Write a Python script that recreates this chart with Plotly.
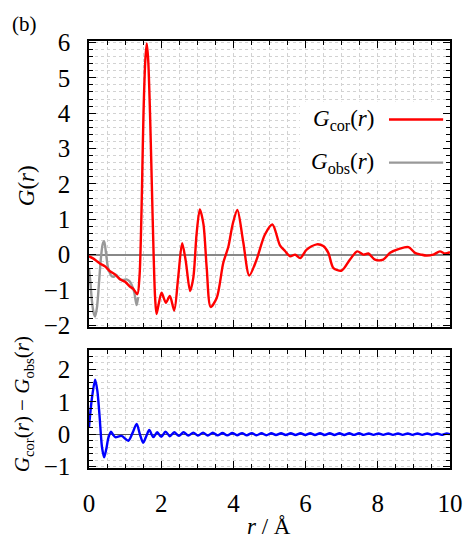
import plotly.graph_objects as go

# ---- data ----
r_cor = [0.0, 0.1, 0.2, 0.3, 0.44, 0.58, 0.72, 0.86, 1.0, 1.14, 1.22, 1.34, 1.40, 1.44, 1.47,
         1.51, 1.56, 1.60, 1.64, 1.69, 1.74, 1.79, 1.83, 1.87, 1.92, 2.01, 2.13, 2.24, 2.36,
         2.47, 2.58, 2.68, 2.8, 2.89, 2.98, 3.07, 3.17, 3.26, 3.37, 3.54, 3.72, 3.86, 3.98,
         4.11, 4.27, 4.44, 4.64, 4.87, 5.08, 5.29, 5.43, 5.57, 5.71, 5.85, 6.03, 6.31, 6.49,
         6.63, 6.77, 7.0, 7.23, 7.43, 7.6, 7.74, 7.92, 8.15, 8.34, 8.61, 8.85, 9.03, 9.2,
         9.35, 9.54, 9.72, 9.86, 10.0]
g_cor = [-0.05, -0.1, -0.17, -0.25, -0.33, -0.47, -0.56, -0.70, -0.77, -0.91, -0.96, -1.12,
         -0.6, 0.6, 2.0, 4.0, 5.5, 5.97, 5.5, 4.0, 2.0, 0.0, -1.2, -1.68, -1.45, -1.08, -1.36,
         -1.17, -1.58, -0.65, 0.32, -0.18, -1.03, -0.65, 0.58, 1.28, 0.86, -0.37, -1.48, -1.22,
         -0.23, 0.22, 0.86, 1.26, 0.37, -0.59, -0.15, 0.56, 0.85, 0.26, 0.1, -0.05, 0.0, -0.1,
         0.14, 0.29, 0.24, 0.05, -0.38, -0.45, -0.14, 0.09, 0.0, 0.03, -0.14, -0.14, 0.05,
         0.17, 0.21, 0.05, 0.0, -0.03, 0.0, 0.09, 0.03, 0.07]

r_obs = [0.0, 0.04, 0.08, 0.13, 0.17, 0.22, 0.27, 0.33, 0.38, 0.42, 0.47, 0.53, 0.63, 0.70,
         0.75, 0.86, 0.95, 1.04, 1.12, 1.18, 1.25, 1.32, 1.36]
g_obs = [-0.4, -0.8, -1.3, -1.65, -1.75, -1.5, -0.9, -0.1, 0.3, 0.38, 0.05, -0.38, -0.61,
         -0.62, -0.57, -0.7, -0.72, -0.7, -0.75, -0.85, -1.05, -1.43, -1.2]

r_diff = [0.0, 0.08, 0.17, 0.23, 0.29, 0.36, 0.42, 0.48, 0.54, 0.61, 0.67, 0.73, 0.9, 1.09,
          1.21, 1.32, 1.41, 1.5, 1.59, 1.67, 1.78, 1.89, 2.0, 2.12, 2.24, 2.36, 2.49, 2.62,
          2.75, 2.89, 3.02, 3.16, 3.29, 3.43, 3.56, 3.70, 3.83, 3.97, 4.10, 4.24, 4.37, 4.51,
          4.64, 4.78, 4.91, 5.05, 5.18, 5.32, 5.45, 5.59, 5.72, 5.86, 5.99, 6.13, 6.26, 6.40,
          6.53, 6.67, 6.80, 6.94, 7.07, 7.21, 7.34, 7.48, 7.61, 7.75, 7.88, 8.02, 8.15, 8.29,
          8.42, 8.56, 8.69, 8.83, 8.96, 9.10, 9.23, 9.37, 9.50, 9.64, 9.77, 9.91, 10.0]
g_diff = [0.22, 1.1, 1.68, 1.35, 0.6, -0.4, -0.71, -0.45, -0.1, 0.08, -0.02, -0.09, -0.05,
          -0.2, 0.05, 0.32, 0.0, -0.26, -0.05, 0.13, -0.09, 0.06, -0.08, 0.08, -0.06, 0.06,
          -0.05, 0.06, -0.04, 0.05, -0.04, 0.05, -0.04, 0.045, -0.035, 0.04, -0.035, 0.04,
          -0.03, 0.035, -0.03, 0.035, -0.03, 0.03, -0.03, 0.03, -0.025, 0.03, -0.025, 0.03,
          -0.025, 0.03, -0.025, 0.03, -0.025, 0.03, -0.025, 0.03, -0.025, 0.03, -0.025, 0.03,
          -0.02, 0.03, -0.02, 0.025, -0.02, 0.025, -0.02, 0.025, -0.02, 0.025, -0.02, 0.025,
          -0.02, 0.025, -0.02, 0.025, -0.02, 0.025, -0.02, 0.025, 0.0]

x_ticks = [0, 2, 4, 6, 8, 10]
label_cor = "<i>G</i><sub>cor</sub>(<i>r</i>)"
label_obs = "<i>G</i><sub>obs</sub>(<i>r</i>)"

FONT = "Liberation Serif"
RED, GRAY, BLUE = "#ff0000", "#999999", "#0000ff"
GRID = "#d2d2d2"

fig = go.Figure()
fig.add_trace(go.Scatter(x=r_obs, y=g_obs, mode="lines", xaxis="x", yaxis="y",
                         line=dict(color=GRAY, width=2.4, shape="spline", smoothing=0.8),
                         showlegend=False))
fig.add_trace(go.Scatter(x=r_cor, y=g_cor, mode="lines", xaxis="x", yaxis="y",
                         line=dict(color=RED, width=2.4, shape="spline", smoothing=0.8),
                         showlegend=False))
fig.add_trace(go.Scatter(x=r_diff, y=g_diff, mode="lines", xaxis="x2", yaxis="y2",
                         line=dict(color=BLUE, width=2.4, shape="spline", smoothing=0.8),
                         showlegend=False))


def xax(show_labels, anchor):
    return dict(anchor=anchor, domain=[0, 1], range=[0, 10], tickvals=x_ticks,
                showticklabels=show_labels, ticks="inside", ticklen=7, tickwidth=1,
                tickcolor="black", showline=True, linecolor="black", linewidth=1.5,
                mirror="allticks", zeroline=False, showgrid=True, gridcolor=GRID,
                griddash="dot", gridwidth=1, ticklabelstandoff=12,
                tickfont=dict(family=FONT, size=25),
                minor=dict(dtick=0.5, tick0=0, ticks="inside", ticklen=4, tickcolor="black",
                           showgrid=True, gridcolor=GRID, griddash="dot", gridwidth=1))


def yax(anchor, domain, rng, dtick, mdtick, zcol, zw):
    return dict(anchor=anchor, domain=domain, range=rng, dtick=dtick, tick0=0,
                ticks="inside", ticklen=7, tickwidth=1, tickcolor="black",
                showline=True, linecolor="black", linewidth=1.5, mirror="allticks",
                zeroline=True, zerolinecolor=zcol, zerolinewidth=zw,
                showgrid=True, gridcolor=GRID, griddash="dot", gridwidth=1,
                ticklabelstandoff=12,
                tickfont=dict(family=FONT, size=25),
                minor=dict(dtick=mdtick, tick0=0, ticks="inside", ticklen=4, tickcolor="black",
                           showgrid=True, gridcolor=GRID, griddash="dot", gridwidth=1))


# the page body adds an 8px offset, so margins are reduced by 8px on top/left
fig.update_layout(
    width=471, height=540,
    margin=dict(l=81, r=29, t=33, b=80),
    paper_bgcolor="white", plot_bgcolor="white",
    font=dict(family=FONT, size=22, color="black"),
    xaxis=xax(False, "y"),
    yaxis=yax("x", [0.330, 1.0], [-2.05, 6.04], 1, 0.2, "#888888", 1.5),
    xaxis2=xax(True, "y2"),
    yaxis2=yax("x2", [0.0, 0.276], [-1.04, 2.59], 1, 0.2, "#555555", 1),
    showlegend=False,
)

# legend box (drawn between grid and traces)
fig.add_shape(type="rect", xref="x", yref="y", x0=5.84, x1=9.97, y0=2.1, y1=4.33,
              fillcolor="white", line=dict(width=0), layer="between")
fig.add_shape(type="line", xref="x", yref="y", x0=8.31, x1=9.81, y0=3.82, y1=3.82,
              line=dict(color=RED, width=2.4))
fig.add_shape(type="line", xref="x", yref="y", x0=8.31, x1=9.81, y0=2.6, y1=2.6,
              line=dict(color=GRAY, width=2.4))
fig.add_annotation(x=7.95, y=3.82, xref="x", yref="y", text=label_cor, showarrow=False,
                   xanchor="right", yanchor="middle", font=dict(family=FONT, size=23))
fig.add_annotation(x=7.95, y=2.6, xref="x", yref="y", text=label_obs, showarrow=False,
                   xanchor="right", yanchor="middle", font=dict(family=FONT, size=23))

# titles
fig.add_annotation(x=-0.18, y=1.04, xref="paper", yref="paper", text="(b)", showarrow=False,
                   xanchor="center", yanchor="middle", font=dict(family=FONT, size=21))
fig.add_annotation(x=-0.1745, y=0.66, xref="paper", yref="paper", text="<i>G</i>(<i>r</i>)",
                   textangle=-90, showarrow=False, xanchor="center", yanchor="middle",
                   font=dict(family=FONT, size=23))
fig.add_annotation(x=-0.182, y=0.15, xref="paper", yref="paper",
                   text=label_cor + " − " + label_obs,
                   textangle=-90, showarrow=False, xanchor="center", yanchor="middle",
                   font=dict(family=FONT, size=21))
fig.add_annotation(x=0.4986, y=-0.136, xref="paper", yref="paper",
                   text="<i>r</i> / Å", showarrow=False, xanchor="center", yanchor="middle",
                   font=dict(family=FONT, size=23))

fig.write_html("out.html")
